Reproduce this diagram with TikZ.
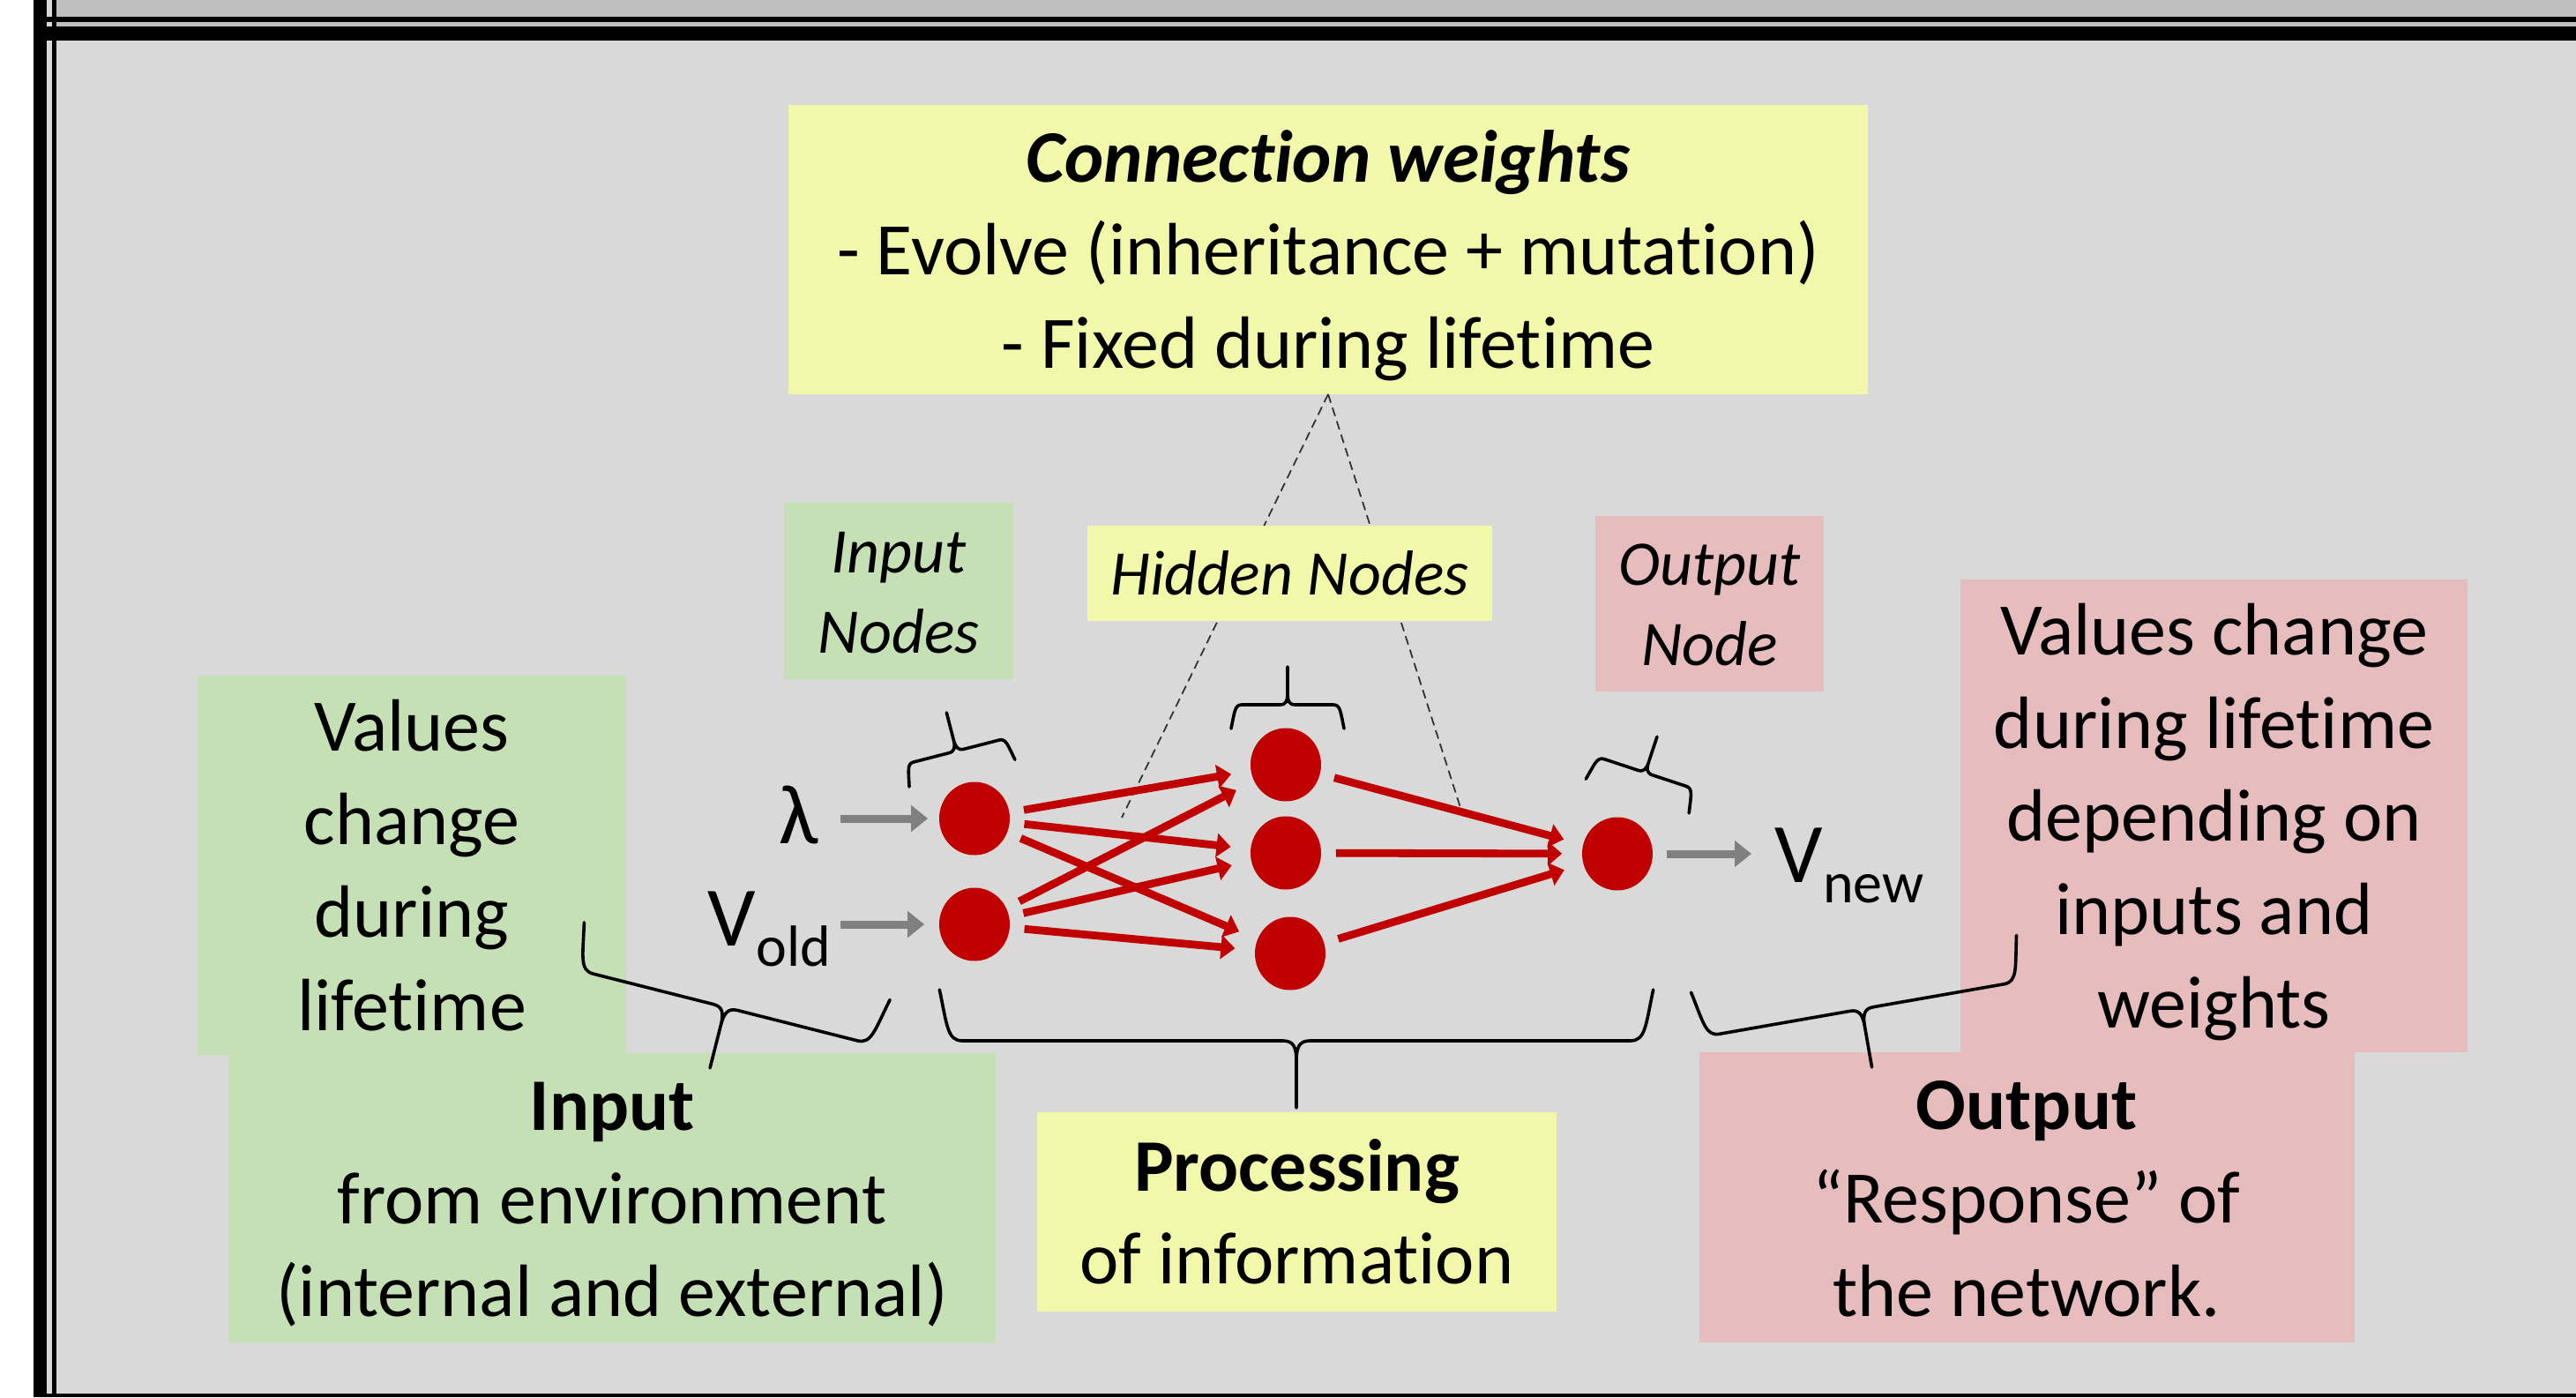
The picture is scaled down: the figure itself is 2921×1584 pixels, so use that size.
\documentclass[tikz,border=0pt]{standalone}
\usepackage{fontspec}
\setmainfont{Carlito}[Ligatures=NoCommon]
\usetikzlibrary{arrows.meta,shapes.geometric}
\definecolor{bgc}{HTML}{D9D9D9}
\definecolor{topband}{HTML}{BFBFBF}
\definecolor{yel}{HTML}{F2F8AA}
\definecolor{grn}{HTML}{C5E0B4}
\definecolor{pnk}{HTML}{E6BCBC}
\definecolor{nred}{HTML}{C00000}
\definecolor{gry}{HTML}{808080}
\newcommand\pst{\rule[-0.26em]{0pt}{1.21em}}
\newcommand\fbig{\fontsize{21}{25.41}\selectfont}
\newcommand\fsml{\fontsize{18}{21.78}\selectfont\itshape}
\newcommand\fsym{\fontsize{24}{29}\selectfont}
\newcommand\fsub{\fontsize{16.5}{20}\selectfont}
\tikzset{
  box/.style={inner sep=0pt, outer sep=0pt, align=center, font=\fbig},
  lbox/.style={box, font=\fsml},
  yfill/.style={fill=yel},
  gfill/.style={fill=grn},
  pfill/.style={fill=pnk},
  neuron/.style={ellipse, fill=nred, inner sep=0pt, minimum width=20pt, minimum height=20.75pt},
  redarrow/.style={draw=nred, line width=2.2pt, -{Triangle[length=4pt,width=6.6pt]}, shorten <=4pt, shorten >=5.5pt},
  garrow/.style={draw=gry, line width=2.25pt, -{Triangle[length=4.75pt,width=7.25pt]}},
  symtext/.style={inner sep=0pt, font=\fsym},
  dashline/.style={draw=black!80, line width=0.45pt, dash pattern=on 2.5pt off 1.5pt},
  bracestyle/.style={draw=black, line width=0.9pt, line cap=round, line join=round},
  pics/cbrace/.style n args={3}{code={
    \pgfmathsetmacro\bw{#1}\pgfmathsetmacro\bh{#2}\pgfmathsetmacro\bt{#3}
    \pgfmathsetmacro\be{\bw+0.15*abs(\bh)}
    \pgfmathsetmacro\br{0.3*abs(\bh)}
    \pgfmathsetmacro\bs{0.2*abs(\bt)}
    \pgfmathsetmacro\bhc{\bh*0.3}
    \pgfmathsetmacro\btc{\bt*0.3}
    \pgfmathsetmacro\btd{\bt*0.1}
    \pgfmathsetmacro\bsc{\bs*0.2}
    \draw[bracestyle] (-\be,\bh) .. controls (-\bw,\bhc) and (-\bw,0) .. (-\bw+\br,0)
      -- (-\bs,0) .. controls (-\bsc,0) and (0,\btd) .. (0,\btc) -- (0,\bt)
      (0,\btc) .. controls (0,\btd) and (\bsc,0) .. (\bs,0)
      -- (\bw-\br,0) .. controls (\bw,0) and (\bw,\bhc) .. (\be,\bh);
  }}
}
\begin{document}
\begin{tikzpicture}[x=0.25pt,y=-0.25pt]
\useasboundingbox (0,0) rectangle (2921,1584);
% background and frame
\fill[bgc] (0,0) rectangle (2921,1584);
\fill[topband] (64,0) rectangle (2921,30);
\fill[white] (0,0) rectangle (38,1584);
\fill[black] (38,0) rectangle (53,1584);
\fill[black] (59,0) rectangle (64,1584);
\fill[black] (53,19) rectangle (2921,25);
\fill[black] (53,30) rectangle (2921,46);
\fill[black] (38,1580) rectangle (2921,1584);

% top box and dashed pointers
\node[box,yfill,minimum width=306pt,minimum height=82pt] (cw) at (1506,283)
  {\pst{\bfseries\itshape Connection weights}\\\pst- Evolve (inheritance + mutation)\\\pst- Fixed during lifetime};
\coordinate (dl) at (1272,927);
\coordinate (dr) at (1659,925);
\draw[dashline] (cw.south) -- (dl);
\draw[dashline] (cw.south) -- (dr);

% label boxes
\node[lbox,yfill,minimum width=114.75pt,minimum height=27pt] (hid) at (1462.5,650) {\pst Hidden Nodes};
\node[lbox,gfill,minimum width=65pt,minimum height=50pt] (inl) at (1019,670) {\pst Input\\\pst Nodes};
\node[lbox,pfill,minimum width=64.75pt,minimum height=49.75pt] (outl) at (1938.5,684.5) {\pst Output\\\pst Node};

\node[box,gfill,minimum width=121.5pt,minimum height=107.5pt] (lval) at (467,981)
  {\pst Values\\\pst change\\\pst during\\\pst lifetime};
\node[box,gfill,minimum width=217.5pt,minimum height=82pt] (inp) at (694,1358)
  {\pst\textbf{Input}\\\pst from environment\\\pst (internal and external)};
\node[box,yfill,minimum width=147.25pt,minimum height=56.5pt] (proc) at (1470.5,1374)
  {\pst\textbf{Processing}\\\pst of information};
\node[box,pfill,minimum width=143.75pt,minimum height=134pt] (rval) at (2510.5,925)
  {\pst Values change\\\pst during lifetime\\\pst depending on\\\pst inputs and\\\pst weights};
\node[box,pfill,minimum width=185.75pt,minimum height=82.25pt] (outp) at (2298,1357.5)
  {\pst\textbf{Output}\\\pst “Response” of\\\pst the network.};

% neurons
\node[neuron] (i1) at (1105,928) {};
\node[neuron] (i2) at (1105,1048) {};
\node[neuron] (h1) at (1458,867) {};
\node[neuron] (h2) at (1458,967) {};
\node[neuron] (h3) at (1463,1081) {};
\node[neuron] (o)  at (1834,968) {};

% weighted connections
\draw[redarrow] (i1) -- (h1);
\draw[redarrow] (i1) -- (h2);
\draw[redarrow] (i1) -- (h3);
\draw[redarrow] (i2) -- (h1);
\draw[redarrow] (i2) -- (h2);
\draw[redarrow] (i2) -- (h3);
\draw[redarrow] (h1) -- (o);
\draw[redarrow] (h2) -- (o);
\draw[redarrow] (h3) -- (o);

% input / output symbols
\node[symtext, anchor=base] (lam) at (906,956) {λ};
\node[symtext, anchor=base west] (vold) at (802,1072) {V\raisebox{-5.75pt}{\fsub old}};
\node[symtext, anchor=base west] (vnew) at (2012,1000) {V\raisebox{-5.75pt}{\fsub new}};
\draw[garrow, shorten <=6pt, shorten >=3pt] (lam.east |- i1.west) -- (i1.west);
\draw[garrow, shorten <=2.5pt, shorten >=4pt] (vold.east |- i2.west) -- (i2.west);
\draw[garrow, shorten <=3.75pt, shorten >=6.5pt] (o.east) -- (vnew.west |- o.east);

% braces
\pic[rotate=14.4] at (1084.5,851.5) {cbrace={58}{26}{-45}};
\pic at (1460,799) {cbrace={60}{27}{-43}};
\pic[rotate=-18.3] at (1865.5,876) {cbrace={57.4}{28}{-43}};
\pic[rotate=-14.2] at (822.5,1142) {cbrace={170.7}{-54}{71}};
\pic at (1470,1180) {cbrace={396}{-58}{76}};
\pic[rotate=9.94] at (2111,1144) {cbrace={179.5}{-52}{67}};
\end{tikzpicture}
\end{document}
